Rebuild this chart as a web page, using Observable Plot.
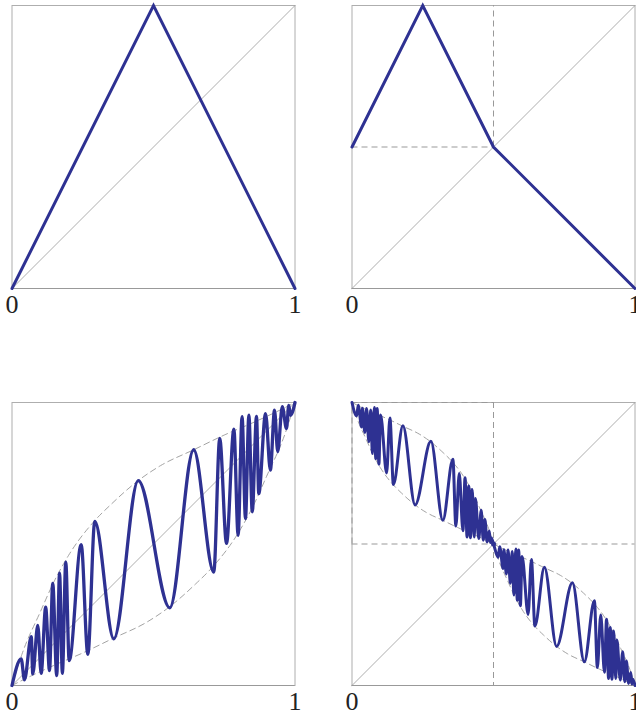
<!DOCTYPE html>
<html>
<head>
<meta charset="utf-8">
<script src="https://cdn.jsdelivr.net/npm/d3@7"></script>
<script src="https://cdn.jsdelivr.net/npm/@observablehq/plot@0.6"></script>
<style>
  html, body { margin: 0; padding: 0; background: #fff; overflow: hidden; }
  #wrap { position: relative; width: 636px; height: 716px; }
  .cell { position: absolute; width: 318px; height: 358px; }
</style>
</head>
<body>
<div id="wrap">
  <div class="cell" id="p1" style="left:0;top:0"></div>
  <div class="cell" id="p2" style="left:318px;top:0"></div>
  <div class="cell" id="p3" style="left:0;top:358px"></div>
  <div class="cell" id="p4" style="left:318px;top:358px"></div>
</div>
<script>
// ---- data ----
const ticks = [0, 1];
const half = 0.5;

// top-left: tent map
const tentX = [0, 0.5, 1];
const tentY = [0, 1, 0];

// top-right: folded map
const foldX = [0, 0.25, 0.5, 1];
const foldY = [0.5, 1, 0.5, 0];

// bottom-left: oscillating homeomorphism (peaks and troughs)
const wildX = [0, 0.0325, 0.044, 0.068, 0.0735, 0.091, 0.103, 0.119, 0.1325, 0.144, 0.158, 0.168, 0.178, 0.190, 0.202, 0.2445, 0.268, 0.2926, 0.3597, 0.446, 0.5576, 0.642, 0.713, 0.734, 0.758, 0.784, 0.799, 0.813, 0.825, 0.837, 0.849, 0.864, 0.872, 0.896, 0.913, 0.9276, 0.939, 0.955, 0.970, 0.978, 0.984, 1];
const wildY = [0, 0.094, 0.020, 0.173, 0.041, 0.212, 0.043, 0.277, 0.053, 0.361, 0.035, 0.397, 0.043, 0.436, 0.088, 0.498, 0.110, 0.5795, 0.165, 0.724, 0.2746, 0.833, 0.4004, 0.873, 0.502, 0.906, 0.531, 0.950, 0.590, 0.955, 0.614, 0.951, 0.678, 0.961, 0.761, 0.973, 0.826, 0.985, 0.908, 0.990, 0.955, 1];

// bottom-left envelopes (dashed)
const upperX = [0, 0.035, 0.1, 0.15, 0.2, 0.29, 0.35, 0.446, 0.525, 0.642, 0.75, 0.843, 0.93, 1];
const upperY = [0, 0.11, 0.26, 0.37, 0.46, 0.58, 0.64, 0.724, 0.777, 0.833, 0.885, 0.925, 0.965, 1];
const lowerX = [0, 0.07, 0.157, 0.25, 0.358, 0.475, 0.554, 0.65, 0.71, 0.8, 0.85, 0.9, 0.965, 1];
const lowerY = [0, 0.035, 0.075, 0.115, 0.167, 0.223, 0.276, 0.36, 0.42, 0.54, 0.63, 0.74, 0.89, 1];

// bottom-right: decreasing oscillating map
const wild2X = [0, 0.01625, 0.022, 0.034, 0.03675, 0.0455, 0.0515, 0.0595, 0.06625, 0.072, 0.079, 0.084, 0.089, 0.095, 0.101, 0.12225, 0.134, 0.1463, 0.17985, 0.223, 0.2788, 0.321, 0.3565, 0.367, 0.379, 0.392, 0.3995, 0.4065, 0.4125, 0.4185, 0.4245, 0.432, 0.436, 0.448, 0.4565, 0.4638, 0.4695, 0.4775, 0.485, 0.489, 0.492, 0.5,
  0.51625, 0.522, 0.534, 0.53675, 0.5455, 0.5515, 0.5595, 0.56625, 0.572, 0.579, 0.584, 0.589, 0.595, 0.601, 0.62225, 0.634, 0.6463, 0.67985, 0.723, 0.7788, 0.821, 0.8565, 0.867, 0.879, 0.892, 0.8995, 0.9065, 0.9125, 0.9185, 0.9245, 0.932, 0.936, 0.948, 0.9565, 0.9638, 0.9695, 0.9775, 0.985, 0.989, 0.992, 1];
const wild2Y = [1, 0.953, 0.990, 0.9135, 0.9795, 0.894, 0.9785, 0.8615, 0.9735, 0.8195, 0.9825, 0.8015, 0.9785, 0.782, 0.956, 0.751, 0.945, 0.71025, 0.9175, 0.638, 0.8627, 0.5835, 0.7998, 0.5635, 0.749, 0.547, 0.7345, 0.525, 0.705, 0.5225, 0.693, 0.5245, 0.661, 0.5195, 0.6195, 0.5135, 0.587, 0.5075, 0.546, 0.505, 0.5225, 0.5,
  0.453, 0.490, 0.4135, 0.4795, 0.394, 0.4785, 0.3615, 0.4735, 0.3195, 0.4825, 0.3015, 0.4785, 0.282, 0.456, 0.251, 0.445, 0.21025, 0.4175, 0.138, 0.3627, 0.0835, 0.2998, 0.0635, 0.249, 0.047, 0.2345, 0.025, 0.205, 0.0225, 0.193, 0.0245, 0.161, 0.0195, 0.1195, 0.0135, 0.087, 0.0075, 0.046, 0.005, 0.0225, 0];

// bottom-right envelopes (dashed)
const brTopLX = [0, 0.035, 0.0785, 0.125, 0.179, 0.2375, 0.277, 0.325, 0.355, 0.4, 0.425, 0.45, 0.4825, 0.5];
const brTopLY = [1, 0.9825, 0.9625, 0.9425, 0.9165, 0.8885, 0.862, 0.82, 0.79, 0.73, 0.685, 0.63, 0.555, 0.5];
const brBotLX = [0, 0.0175, 0.05, 0.075, 0.1, 0.145, 0.175, 0.223, 0.2625, 0.321, 0.375, 0.4215, 0.465, 0.5];
const brBotLY = [1, 0.945, 0.87, 0.815, 0.77, 0.71, 0.68, 0.638, 0.6115, 0.5835, 0.5575, 0.5375, 0.5175, 0.5];
const brTopRX = [0.5, 0.535, 0.5785, 0.625, 0.679, 0.7375, 0.777, 0.825, 0.855, 0.9, 0.925, 0.95, 0.9825, 1];
const brTopRY = [0.5, 0.4825, 0.4625, 0.4425, 0.4165, 0.3885, 0.362, 0.32, 0.29, 0.23, 0.185, 0.13, 0.055, 0];
const brBotRX = [0.5, 0.5175, 0.55, 0.575, 0.6, 0.645, 0.675, 0.723, 0.7625, 0.821, 0.875, 0.9215, 0.965, 1];
const brBotRY = [0.5, 0.445, 0.37, 0.315, 0.27, 0.21, 0.18, 0.138, 0.1115, 0.0835, 0.0575, 0.0375, 0.0175, 0];

// ---- drawing ----
const zip = (xs, ys) => xs.map((x, i) => ({x, y: ys[i]}));
const BLUE = "#2e3192";
const GREY = "#999999";
const dashed = {stroke: GREY, strokeWidth: 1, strokeDasharray: "6,4"};

function base(extra) {
  return [
    Plot.frame({stroke: "#aeaeae", strokeWidth: 1}),
    Plot.ruleY([0], {stroke: "#999999", strokeWidth: 1}),
    Plot.line(ticks, {x: d => d, y: d => d, stroke: GREY, strokeWidth: 0.8}),
    ...extra,
    Plot.axisX(ticks, {tickSize: 0, tickPadding: 6.5, fontSize: 26, fontFamily: "Liberation Serif, Times New Roman, serif", fill: "#222", tickFormat: d => String(d), label: null})
  ];
}

function panel(id, mt, mb, ml, mr, marks) {
  const chart = Plot.plot({
    width: 318, height: 358,
    marginTop: mt, marginBottom: mb, marginLeft: ml, marginRight: mr,
    x: {domain: [0, 1], label: null},
    y: {domain: [0, 1], axis: null, label: null},
    style: {background: "transparent", fontFamily: "Liberation Serif, serif"},
    marks: base(marks)
  });
  document.getElementById(id).appendChild(chart);
}

const curveStyle = {stroke: BLUE, strokeWidth: 3, strokeLinejoin: "miter", strokeMiterlimit: 10};

panel("p1", 5, 70, 11.5, 23.5, [
  Plot.line(zip(tentX, tentY), {x: "x", y: "y", ...curveStyle})
]);

panel("p2", 5, 70, 33.5, 1.5, [
  Plot.ruleX([half], {y1: half, y2: 1, ...dashed}),
  Plot.ruleY([half], {x1: 0, x2: half, ...dashed}),
  Plot.line(zip(foldX, foldY), {x: "x", y: "y", ...curveStyle})
]);

panel("p3", 44, 31, 11.5, 23.5, [
  Plot.line(zip(upperX, upperY), {x: "x", y: "y", curve: "monotone-x", ...dashed, strokeWidth: 0.9}),
  Plot.line(zip(lowerX, lowerY), {x: "x", y: "y", curve: "monotone-x", ...dashed, strokeWidth: 0.9}),
  Plot.line(zip(wildX, wildY), {x: "x", y: "y", curve: "monotone-x", stroke: BLUE, strokeWidth: 3.3})
]);

panel("p4", 44, 31, 33.5, 1.5, [
  Plot.ruleX([half], dashed),
  Plot.ruleY([half], dashed),
  Plot.ruleX([0], {y1: half, y2: 1, ...dashed}),
  Plot.ruleY([1], {x1: 0, x2: half, ...dashed}),
  Plot.line(zip(brTopLX, brTopLY), {x: "x", y: "y", curve: "monotone-x", ...dashed, strokeWidth: 0.9}),
  Plot.line(zip(brBotLX, brBotLY), {x: "x", y: "y", curve: "monotone-x", ...dashed, strokeWidth: 0.9}),
  Plot.line(zip(brTopRX, brTopRY), {x: "x", y: "y", curve: "monotone-x", ...dashed, strokeWidth: 0.9}),
  Plot.line(zip(brBotRX, brBotRY), {x: "x", y: "y", curve: "monotone-x", ...dashed, strokeWidth: 0.9}),
  Plot.line(zip(wild2X, wild2Y), {x: "x", y: "y", curve: "monotone-x", stroke: BLUE, strokeWidth: 3}),
  Plot.dot([half], {x: d => d, y: d => d, r: 2.5, fill: BLUE})
]);
</script>
</body>
</html>
